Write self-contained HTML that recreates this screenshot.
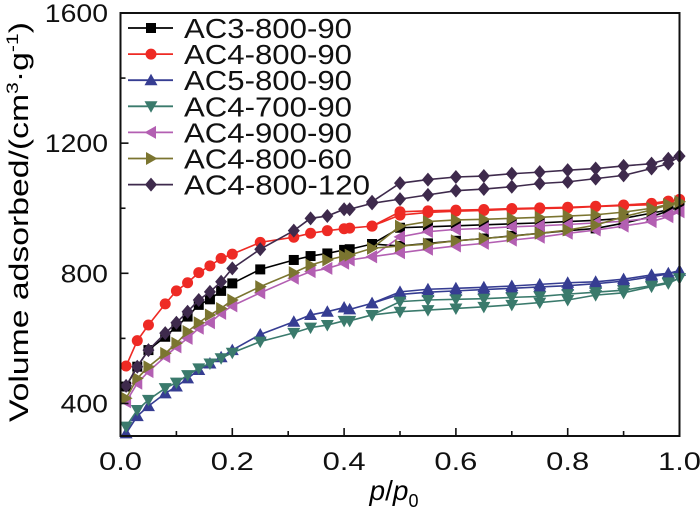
<!DOCTYPE html>
<html><head><meta charset="utf-8"><style>
html,body{margin:0;padding:0;background:#fff;}
svg{display:block;font-family:"Liberation Sans",Arial,sans-serif;}
</style></head><body>
<svg id="chart" width="700" height="516" viewBox="0 0 700 516">
<g id="marks"></g>
<g id="axes"></g>
<g id="legend"></g>
<text x="394" y="500" font-size="28" text-anchor="middle"><tspan font-style="italic">p</tspan>/<tspan font-style="italic">p</tspan><tspan font-size="18" dy="7">0</tspan></text>
<text transform="translate(28,222) rotate(-90)" font-size="27" text-anchor="middle" textLength="400" lengthAdjust="spacingAndGlyphs">Volume adsorbed/(cm<tspan font-size="17" dy="-10">3</tspan><tspan dy="10">·g</tspan><tspan font-size="17" dy="-10">-1</tspan><tspan dy="10">)</tspan></text>
</svg>
<script>
const adsX=[0.01,0.03,0.05,0.08,0.1,0.12,0.14,0.16,0.18,0.2,0.25,0.31,0.34,0.37,0.4,0.41,0.45,0.5,0.55,0.6,0.65,0.7,0.75,0.8,0.85,0.9,0.95,0.98,1.0];
const desX=[1.0,0.98,0.95,0.9,0.85,0.8,0.75,0.7,0.65,0.6,0.55,0.5,0.45];
const seriesNames=["AC3-800-90","AC4-800-90","AC5-800-90","AC4-700-90","AC4-900-90","AC4-800-60","AC4-800-120"];
const adsAC3_800_90=[452,513,564,605,636,667,703,720,746,769,812,841,853,861,872,874,890,884,892,900,907,915,923,931,938,954,974,992,1005];
const desAC3_800_90=[1005,995,985,969,963,959,955,952,949,946,943,940,890];
const adsAC4_800_90=[515,593,641,706,746,771,802,823,846,859,895,911,923,931,937,939,945,979,987,991,993,997,999,1001,1005,1008,1011,1019,1027];
const desAC4_800_90=[1027,1022,1015,1010,1006,1003,1001,999,996,994,992,989,945];
const adsAC5_800_90=[308,361,392,431,452,477,503,523,542,564,612,651,672,682,695,689,708,735,742,746,750,754,758,762,768,776,790,798,808];
const desAC5_800_90=[808,800,795,782,774,771,766,761,757,754,751,743,708];
const adsAC4_700_90=[329,380,411,447,464,487,508,523,539,556,590,617,633,641,654,654,672,682,687,692,697,703,710,718,733,740,759,769,785];
const desAC4_700_90=[785,772,762,748,742,736,729,726,722,720,718,713,672];
const adsAC4_900_90=[405,462,498,544,574,600,631,648,677,700,740,785,805,815,831,841,851,863,874,884,892,902,911,923,933,945,959,974,989];
const desAC4_900_90=[989,980,970,960,955,950,946,943,938,935,928,912,851];
const adsAC4_800_60=[416,477,513,554,585,621,648,672,692,718,759,802,825,841,853,856,877,884,890,900,907,914,923,933,948,974,995,1010,1020];
const desAC4_800_60=[1020,1012,1000,988,980,976,972,969,966,964,959,945,877];
const adsAC4_800_120=[454,513,564,616,648,682,718,743,774,815,874,931,969,976,997,997,1015,1028,1041,1054,1059,1066,1076,1081,1091,1101,1122,1137,1160];
const desAC4_800_120=[1160,1152,1137,1130,1122,1117,1111,1106,1099,1096,1088,1077,1020];
const xTicks=["0.0","0.2","0.4","0.6","0.8","1.0"];
const yTicks=["400","800","1200","1600"];

const NS="http://www.w3.org/2000/svg";
const X0=120.5,X1=679.5,YB=436,YT=13,VMIN=300,VMAX=1600;
function sx(x){return X0+(X1-X0)*x;}
function sy(v){return YB-(YB-YT)*(v-VMIN)/(VMAX-VMIN);}
function mk(tag,attrs,parent){const e=document.createElementNS(NS,tag);for(const k in attrs)e.setAttribute(k,attrs[k]);parent.appendChild(e);return e;}

const styles=[
 {c:"#000000",m:"square"},{c:"#ee2a24",m:"circle"},{c:"#363d92",m:"up"},
 {c:"#3a7a6c",m:"down"},{c:"#b35fb2",m:"left"},{c:"#7b7530",m:"right"},{c:"#3e2a4c",m:"diamond"}];
const ads=[adsAC3_800_90,adsAC4_800_90,adsAC5_800_90,adsAC4_700_90,adsAC4_900_90,adsAC4_800_60,adsAC4_800_120];
const des=[desAC3_800_90,desAC4_800_90,desAC5_800_90,desAC4_700_90,desAC4_900_90,desAC4_800_60,desAC4_800_120];

function marker(parent,type,x,y,c){
 const r=5;let e;
 if(type==="square")e=mk("rect",{x:x-r,y:y-r,width:2*r,height:2*r,fill:c},parent);
 else if(type==="circle")e=mk("circle",{cx:x,cy:y,r:r+0.5,fill:c},parent);
 else{let p;
  if(type==="up")p=[[x,y-6.5],[x+6.5,y+5],[x-6.5,y+5]];
  else if(type==="down")p=[[x,y+6.5],[x+6.5,y-5],[x-6.5,y-5]];
  else if(type==="left")p=[[x-6.5,y],[x+5,y-6.5],[x+5,y+6.5]];
  else if(type==="right")p=[[x+6.5,y],[x-5,y-6.5],[x-5,y+6.5]];
  else p=[[x,y-7],[x+6,y],[x,y+7],[x-6,y]];
  e=mk("polygon",{points:p.map(q=>q.join(",")).join(" "),fill:c},parent);}
 return e;
}

const marks=document.getElementById("marks");
for(let s=0;s<seriesNames.length;s++){
 const st=styles[s];
 const g=mk("g",{},marks);
 
 
 const a=adsX.map((x,i)=>sx(x)+","+sy(ads[s][i])).join(" ");
 const d=desX.map((x,i)=>sx(x)+","+sy(des[s][i])).join(" ");
 const la=mk("polyline",{points:a,fill:"none",stroke:st.c,"stroke-width":1.6},g);
 
 
 const ld=mk("polyline",{points:d,fill:"none",stroke:st.c,"stroke-width":1.6},g);
 
 
 adsX.forEach((x,i)=>{const m=marker(g,st.m,sx(x),sy(ads[s][i]),st.c);
  
  });
 desX.forEach((x,i)=>{const m=marker(g,st.m,sx(x),sy(des[s][i]),st.c);
  
  });
}

const axes=document.getElementById("axes");
const fr=mk("rect",{x:X0,y:YT,width:X1-X0,height:YB-YT,fill:"none",stroke:"#111","stroke-width":2},axes);


for(let i=0;i<=10;i++){
 const x=sx(i/10),len=(i%2===0)?8:5;
 const t=mk("line",{x1:x,y1:YB,x2:x,y2:YB-len,stroke:"#111","stroke-width":1.6},axes);
 
 
}
xTicks.forEach((lab,i)=>{
 const t=mk("text",{x:sx(i*0.2),y:470,"font-size":25,"text-anchor":"middle",fill:"#111",textLength:43,lengthAdjust:"spacingAndGlyphs"},axes);
 t.textContent=lab;
 
 
});
for(let v=400;v<=1600;v+=200){
 const y=sy(v),len=(v%400===0)?8:5;
 const t=mk("line",{x1:X0,y1:y,x2:X0+len,y2:y,stroke:"#111","stroke-width":1.6},axes);
 
 
}
yTicks.forEach(lab=>{
 const t=mk("text",{x:108,y:sy(+lab)+9,"font-size":25,"text-anchor":"end",fill:"#111",textLength:lab.length*15.8,lengthAdjust:"spacingAndGlyphs"},axes);
 t.textContent=lab;
 
 
});

const legend=document.getElementById("legend");
seriesNames.forEach((n,i)=>{
 const y=28+i*26.1,st=styles[i];
 const g=mk("g",{},legend);
 
 
 mk("line",{x1:128,y1:y,x2:173,y2:y,stroke:st.c,"stroke-width":1.8},g);
 marker(g,st.m,151,y,st.c);
 const t=mk("text",{x:184,y:y+10,"font-size":28,fill:"#111",textLength:n.length>10?186:168,lengthAdjust:"spacingAndGlyphs"},g);
 t.textContent=n;
});
</script>
</body></html>
